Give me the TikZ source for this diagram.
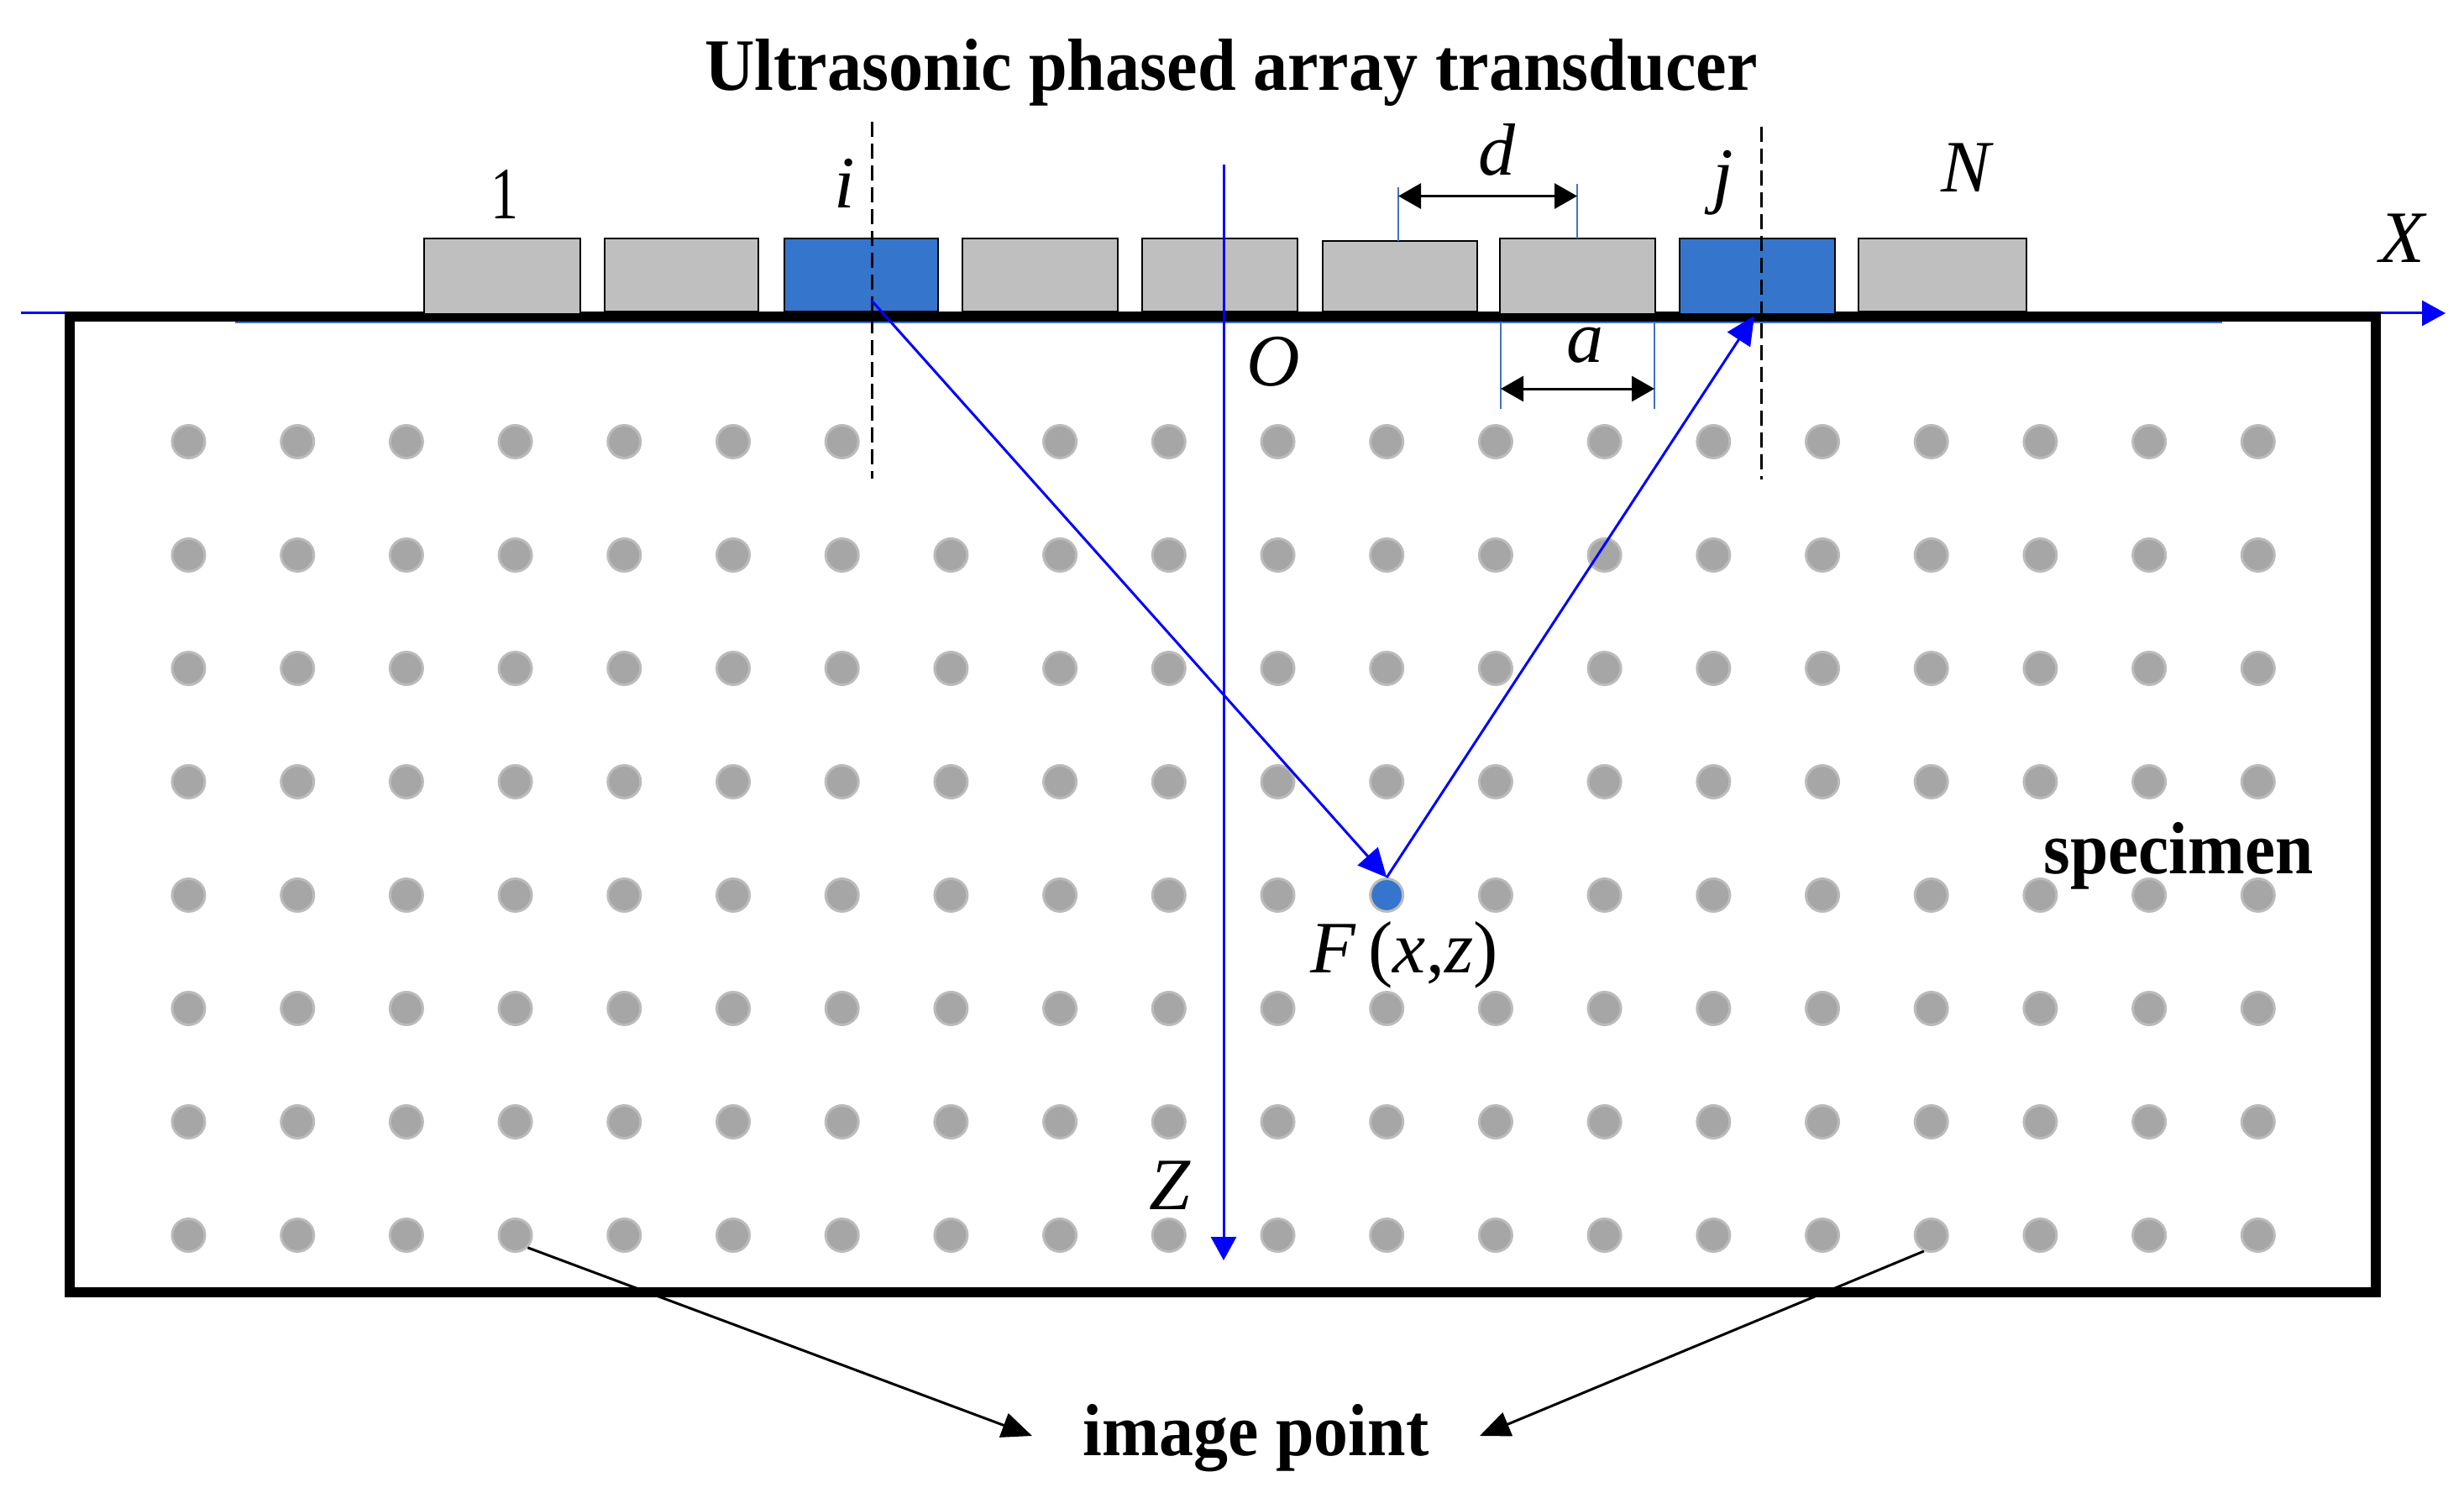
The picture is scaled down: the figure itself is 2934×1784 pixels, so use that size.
\documentclass[tikz,border=0pt]{standalone}
\usepackage{fontspec}
\usetikzlibrary{arrows.meta}
\setmainfont{Liberation Serif}
\definecolor{elemgray}{HTML}{BFBFBF}
\definecolor{elemblue}{HTML}{3575CC}
\definecolor{dotfill}{HTML}{A6A6A6}
\definecolor{dotline}{HTML}{BBBBBB}
\definecolor{ticklineblue}{HTML}{4472C4}
\definecolor{rayblue}{HTML}{0000FF}
\tikzset{
  elembase/.style={draw=black,line width=2.5pt,inner sep=0pt,outer sep=0pt},
  imgdot/.style={circle,draw=dotline,fill=dotfill,line width=3pt,minimum size=39pt,inner sep=0pt,outer sep=1.5pt},
  ray/.style={draw=rayblue,line width=3pt,-{Triangle[length=34pt,width=32pt]}},
  axisline/.style={draw=rayblue,line width=3pt,-{Triangle[length=28pt,width=30pt]}},
  dimline/.style={draw=black,line width=3pt,{Triangle[length=27pt,width=30pt]}-{Triangle[length=27pt,width=30pt]}},
  tickline/.style={draw=ticklineblue,line width=2pt},
  baseline blue/.style={draw=ticklineblue,line width=1.5pt},
  dashline/.style={draw=black,line width=3pt,dash pattern=on 18pt off 8pt},
  callout/.style={draw=black,line width=3pt,-{Triangle[length=36pt,width=30pt]}},
  lbl/.style={anchor=base,inner sep=0pt,outer sep=0pt,font=\fontsize{88pt}{88pt}\selectfont},
  boldlbl/.style={lbl,font=\fontsize{88pt}{88pt}\selectfont\bfseries},
  itlbl/.style={lbl,font=\fontsize{88pt}{88pt}\selectfont\itshape}
}
\begin{document}
\begin{tikzpicture}[x=1pt,y=-1pt]
\path[use as bounding box,fill=white] (0,0) rectangle (2934,1784);
% X axis
\coordinate (xs) at (25,373);
\coordinate (xe) at (2912,373);
\draw[axisline] (xs) -- (xe);
% specimen
\node[draw=black,line width=12.5pt,minimum width=2746pt,minimum height=1162pt,inner sep=0pt] (spec) at (1456,958) {};
\coordinate (us) at (280,384);
\coordinate (ue) at (2646,384);
\draw[baseline blue] (us) -- (ue);
% elements
\foreach \n/\l/\r/\t/\b/\c in {
  e1/505/691/284/374/elemgray, e2/720/903/284/371/elemgray,
  e3/934/1117/284/371/elemblue, e4/1146/1331/284/371/elemgray,
  e5/1360/1545/284/371/elemgray, e6/1575/1759/287/371/elemgray,
  e7/1786/1971/284/374/elemgray, e8/2000/2185/284/374/elemblue,
  e9/2213/2413/284/371/elemgray}{
  \pgfmathsetmacro{\cx}{(\l+\r)/2}
  \pgfmathsetmacro{\cy}{(\t+\b)/2}
  \pgfmathsetmacro{\w}{\r-\l}
  \pgfmathsetmacro{\h}{\b-\t}
  \node[elembase,fill=\c,minimum width=\w pt,minimum height=\h pt] (\n) at (\cx,\cy) {};
}
% dots
\foreach \row/\yy in {1/526,2/661,3/796,4/931,5/1066,6/1201,7/1336,8/1471}{
  \foreach \col in {1,...,20}{
    \pgfmathsetmacro{\xx}{224.5+(\col-1)*129.7}
    \ifnum\row=1 \ifnum\col=8 \else
      \node[imgdot] (d\row-\col) at (\xx,\yy) {};
    \fi\else
      \ifnum\row=5 \ifnum\col=12
        \node[imgdot,fill=elemblue] (F) at (\xx,\yy) {};
      \else
        \node[imgdot] (d\row-\col) at (\xx,\yy) {};
      \fi\else
        \node[imgdot] (d\row-\col) at (\xx,\yy) {};
      \fi
    \fi
  }
}
% dashed normals
\coordinate (ia) at (1038,145);
\coordinate (ib) at (1038,570);
\coordinate (ja) at (2097,151);
\coordinate (jb) at (2097,571);
\draw[dashline] (ia) -- (ib);
\draw[dashline] (ja) -- (jb);
% Z axis
\coordinate (za) at (1457,196);
\coordinate (zb) at (1457,1501);
\draw[axisline] (za) -- (zb);
% rays
\coordinate (io) at (1038,358);
\coordinate (jo) at (2089,376);
\draw[ray] (io) -- (F.north);
\draw[ray] (F.north) -- (jo);
% dimension d
\coordinate (t1a) at (1665,223);
\coordinate (t1b) at (1665,287);
\coordinate (t2a) at (1878,219);
\coordinate (t2b) at (1878,284);
\draw[tickline] (t1a) -- (t1b);
\draw[tickline] (t2a) -- (t2b);
\coordinate (da) at (1665,233.5);
\coordinate (db) at (1878,233.5);
\draw[dimline] (da) -- (db);
% dimension a
\coordinate (t3a) at (1787,384);
\coordinate (t3b) at (1787,487);
\coordinate (t4a) at (1970,384);
\coordinate (t4b) at (1970,487);
\draw[tickline] (t3a) -- (t3b);
\draw[tickline] (t4a) -- (t4b);
\coordinate (aa) at (1787,463);
\coordinate (ab) at (1970,463);
\draw[dimline] (aa) -- (ab);
% texts
\node[boldlbl] (title) at (1466,108) {\scalebox{0.934}[1]{Ultrasonic phased array transducer}};
\node[lbl] (n1) at (601,261) {\scalebox{0.75}[1]{1}};
\node[itlbl] (ni) at (1006,248) {i};
\node[itlbl] (nd) at (1782,209) {d};
\node[itlbl] (nj) at (2052,238) {j};
\node[itlbl] (nN) at (2341,229) {N};
\node[itlbl] (nX) at (2860,313) {X};
\node[itlbl] (nO) at (1516,459) {O};
\node[itlbl] (na) at (1887,431) {a};
\node[itlbl] (nZ) at (1393,1440) {Z};
\node[lbl] (nF) at (1672,1158) {\textit{F}\,(\textit{x},\textit{z})};
\node[boldlbl] (nspec) at (2594,1040) {\scalebox{0.924}[1]{specimen}};
\node[inner sep=0pt,outer sep=0pt,minimum width=533pt,text height=60pt,text depth=14pt,align=center,font=\fontsize{88pt}{88pt}\selectfont\bfseries] (imgpt) at (1495.5,1710) {\scalebox{0.93}[1]{image point}};
% callouts
\draw[callout] (d8-4.-45) -- (imgpt.west);
\draw[callout] (d8-17.-115) -- (imgpt.east);
\end{tikzpicture}
\end{document}
